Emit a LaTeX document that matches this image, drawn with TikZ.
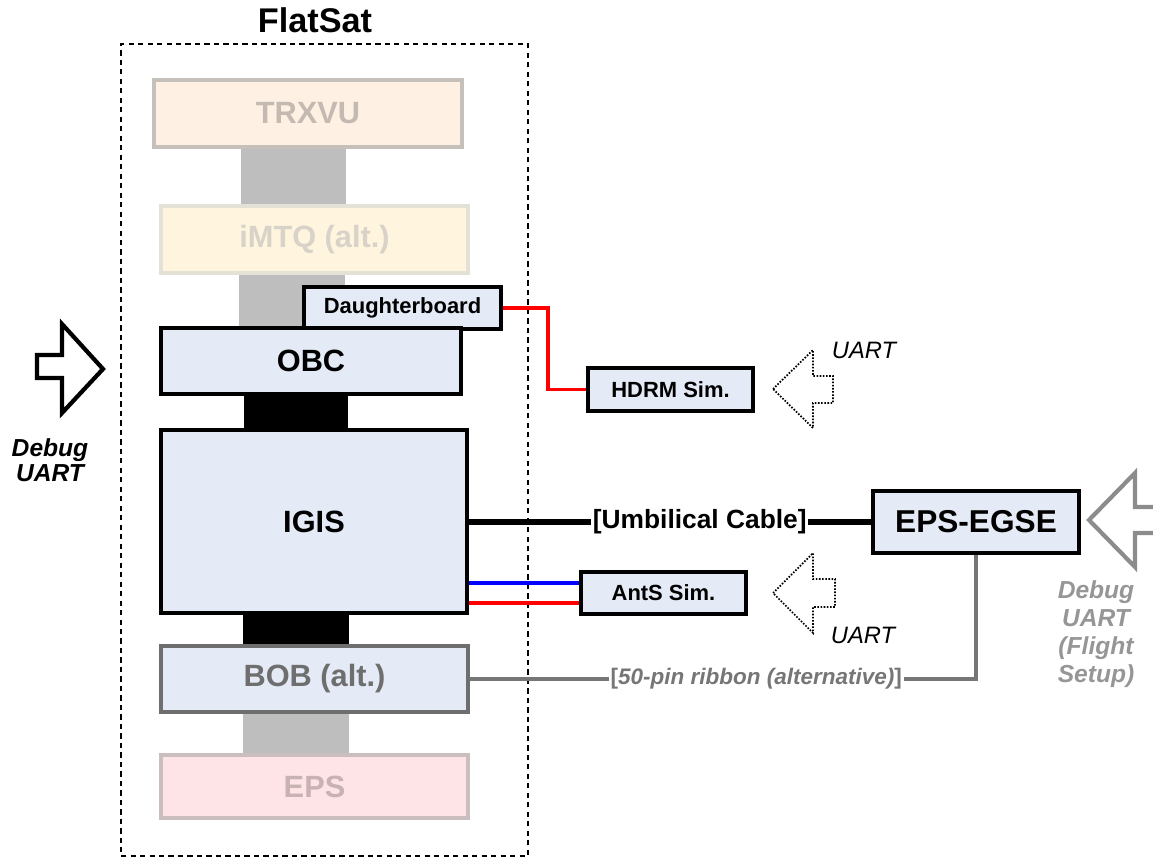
\documentclass[tikz,border=0pt]{standalone}
\usepackage{fontspec}
\setmainfont{Liberation Sans}
\usepackage{tikz}
\usetikzlibrary{positioning}

\definecolor{boardblue}{RGB}{228,235,246}
\definecolor{trxfill}{RGB}{254,240,227}
\definecolor{trxline}{RGB}{198,192,186}
\definecolor{trxtext}{RGB}{196,186,178}
\definecolor{imtqfill}{RGB}{255,245,222}
\definecolor{imtqline}{RGB}{228,226,214}
\definecolor{imtqtext}{RGB}{216,210,200}
\definecolor{epsfill}{RGB}{254,228,230}
\definecolor{epsline}{RGB}{202,190,190}
\definecolor{epstext}{RGB}{200,178,178}
\definecolor{bobgray}{RGB}{110,110,110}
\definecolor{stackgray}{RGB}{190,190,190}
\definecolor{wiregray}{RGB}{118,118,118}
\definecolor{labelgray}{RGB}{150,150,150}
\definecolor{arrowgray}{RGB}{140,140,140}

\tikzset{
    board/.style={draw=black, line width=2.2pt, fill=boardblue, inner sep=0pt,
        font=\bfseries\fontsize{17.5}{20}\selectfont},
    smallboard/.style={board, font=\bfseries\fontsize{12.5}{15}\selectfont},
    ghostboard/.style={board, line width=1.8pt},
    wire/.style={line width=2.8pt},
    bigarrow/.style={line width=2.4pt, line join=miter},
    dotarrow/.style={line width=1pt, dash pattern=on 0.9pt off 0.9pt},
    uart/.style={font=\itshape\fontsize{13.5}{16}\selectfont},
}

\begin{document}
\begin{tikzpicture}[x=0.02cm, y=-0.02cm]
        \clip (0,0) rectangle (1153,858);

        % FlatSat frame
        \node[draw, line width=1.1pt, dash pattern=on 3pt off 2.4pt, minimum width=8.14cm, minimum height=16.24cm] (flatsat) at (324.5,450) {};
        \node[font=\bfseries\fontsize{19.5}{22}\selectfont] (title) at (315,20) {FlatSat};

        % Stack connectors
        \fill[stackgray] (241,147) rectangle (346,207);
        \fill[stackgray] (239,273) rectangle (345,328);
        \fill[black] (244,394) rectangle (348,430);
        \fill[black] (243,613) rectangle (349,646);
        \fill[stackgray] (243,712) rectangle (349,755);

        % Boards
        \node[ghostboard, fill=trxfill, draw=trxline, text=trxtext, minimum width=6.16cm, minimum height=1.34cm] (trxvu) at (308,113.5) {TRXVU};
        \node[ghostboard, fill=imtqfill, draw=imtqline, text=imtqtext, minimum width=6.14cm, minimum height=1.34cm] (imtq) at (314.5,239.5) {iMTQ (alt.)};
        \node[smallboard, minimum width=3.94cm, minimum height=0.84cm] (dboard) at (402.5,308) {Daughterboard};
        \node[board, minimum width=6cm, minimum height=1.32cm] (obc) at (311,361) {OBC};
        \node[board, minimum width=6.12cm, minimum height=3.66cm] (igis) at (314,521.5) {IGIS};
        \node[board, draw=bobgray, text=bobgray, line width=1.9pt, minimum width=6.14cm, minimum height=1.32cm] (bob) at (314.5,679) {BOB (alt.)};
        \node[ghostboard, fill=epsfill, draw=epsline, text=epstext, minimum width=6.14cm, minimum height=1.26cm] (eps) at (314.5,786.5) {EPS};

        % Simulators and EGSE
        \node[smallboard, minimum width=3.3cm, minimum height=0.86cm] (hdrm) at (670.5,389.5) {HDRM Sim.};
        \node[smallboard, minimum width=3.3cm, minimum height=0.84cm] (ants) at (663.5,593) {AntS Sim.};
        \node[board, font=\bfseries\fontsize{18}{21}\selectfont, minimum width=4.12cm, minimum height=1.24cm] (egse) at (976,522) {EPS-EGSE};

        % Cables
        \draw[wire, red, line width=2pt] (dboard.east) -- ++(45,0) |- (hdrm.west);
        \draw[wire, line width=3.8pt] (igis.east |- egse.west) -- node[pos=0.574, fill=white, inner sep=1pt, font=\bfseries\fontsize{15}{18}\selectfont]{[Umbilical Cable]} (egse.west);
        \coordinate (antsB) at ([yshift=0.2cm]ants.west);
        \coordinate (antsR) at ([yshift=-0.2cm]ants.west);
        \draw[wire, blue] (antsB -| igis.east) -- (antsB);
        \draw[wire, red] (antsR -| igis.east) -- (antsR);
        \draw[wiregray, line width=1.9pt] (egse.south) |- node[pos=0.717, fill=white, inner sep=1pt, text=wiregray, font=\bfseries\fontsize{12.8}{15}\selectfont]{[\textit{50-pin ribbon (alternative)}]} (bob.east);

        % Debug arrows
        \draw[bigarrow] (37,355) -- (62,355) -- (62,324) -- (103,369) -- (62,413) -- (62,378) -- (37,378) -- cycle;
        \node[align=center, font=\bfseries\itshape\fontsize{14}{14.2}\selectfont] (dbgleft) at (50,460) {Debug\\UART};
        \draw[bigarrow, arrowgray] (1089,520) -- (1135,473) -- (1135,507) -- (1175,507) -- (1175,533) -- (1135,533) -- (1135,567) -- cycle;
        \node[align=center, text=labelgray, font=\bfseries\itshape\fontsize{14}{15.9}\selectfont] (dbgright) at (1096,634) {Debug\\UART\\(Flight\\Setup)};

        % UART arrows
        \draw[dotarrow] (773,389) -- (813,350) -- (813,376) -- (833,376) -- (833,403) -- (813,403) -- (813,428) -- cycle;
        \node[uart] (uarthdrm) at (864,350) {UART};
        \draw[dotarrow] (773,593) -- (813,553) -- (813,579) -- (835,579) -- (835,607) -- (813,607) -- (813,633) -- cycle;
        \node[uart] (uartants) at (863,635) {UART};
    \end{tikzpicture}
\end{document}
